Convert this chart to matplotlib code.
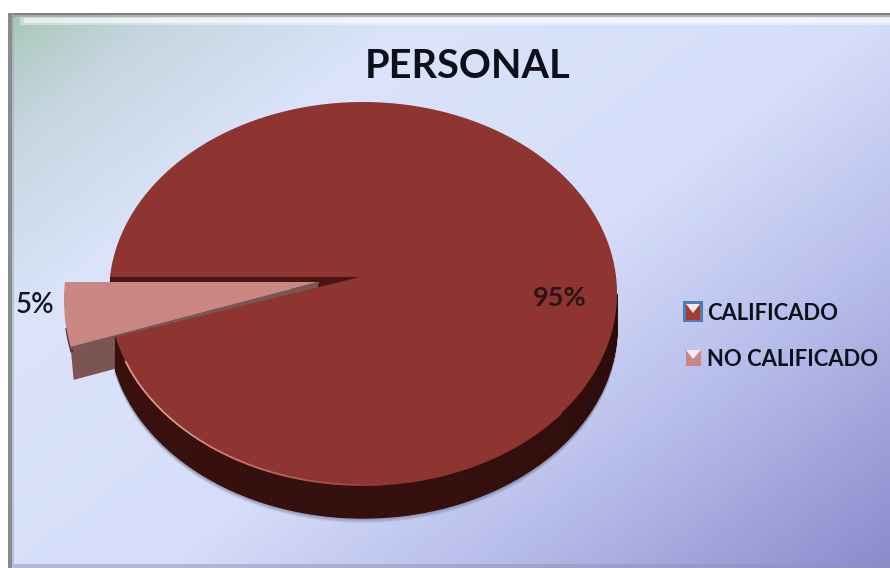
import numpy as np
import matplotlib
matplotlib.use("Agg")
import matplotlib.pyplot as plt
from matplotlib.colors import LinearSegmentedColormap, to_rgb
from matplotlib.patches import Polygon, Rectangle

plt.rcParams['font.family'] = ['Lato', 'DejaVu Sans']

title = "PERSONAL"
categories = ["CALIFICADO", "NO CALIFICADO"]
shares = [95, 5]
share_labels = ["95%", "5%"]
top_colors = ["#8e3431", "#c98683"]

W, H = 890, 568

fig = plt.figure(figsize=(8.9, 5.68), dpi=100)
ax = fig.add_axes([0, 0, 1, 1])

# panel background, diagonal gradient
x0, y0 = 8, 13
bg_cmap = LinearSegmentedColormap.from_list("panel", [
    (0.0, "#a9c8b8"),
    (0.10, "#c6d6e0"),
    (0.26, "#dbe4fb"),
    (0.55, "#d5ddf9"),
    (0.75, "#b7bdea"),
    (1.0, "#8b8bcd"),
])
xx, yy = np.meshgrid(np.linspace(0, 1, 300), np.linspace(0, 1, 200))
ax.imshow((xx * 0.55 + yy * 0.45), cmap=bg_cmap, vmin=0, vmax=1, aspect="auto",
          extent=[x0, W, H, y0], zorder=0)
ax.set_xlim(0, W)
ax.set_ylim(H, 0)
ax.axis("off")

# bevelled frame, layered so the edges fade out
ax.add_patch(Rectangle((x0 + 12, y0 + 3), W - x0 - 12, 9, color="#ffffff", lw=0, alpha=0.35, zorder=1))
ax.add_patch(Rectangle((x0 + 16, y0 + 5), W - x0 - 16, 5, color="#ffffff", lw=0, alpha=0.55, zorder=1))
ax.add_patch(Rectangle((x0, y0), W - x0, 2, color="#7d8280", lw=0, zorder=1))
ax.add_patch(Rectangle((x0, y0 + 2), W - x0, 2, color="#9aa09e", lw=0, alpha=0.7, zorder=1))
ax.add_patch(Rectangle((x0, y0), 4, H - y0, color="#868c90", lw=0, zorder=1))
ax.add_patch(Rectangle((x0 + 4, y0), 2, H - y0, color="#a0a6b0", lw=0, alpha=0.5, zorder=1))
ax.add_patch(Rectangle((x0 + 6, H - 4), W - x0 - 6, 4, color="#8f93b4", lw=0, alpha=0.5, zorder=1))

# pie geometry: the top face is an ellipse, the apex sits above its centre
cx, cy = 363, 293.5
rx, ry = 254, 191.5
apex = (360, 277)
depth = 33
explode = (-45, 5)


def rim(deg):
    # follow a ray from the apex out to the ellipse, in unsquashed coordinates
    a = np.radians(np.atleast_1d(deg))
    dx, dy = np.cos(a), -np.sin(a)
    u0, v0 = (apex[0] - cx) / rx, (apex[1] - cy) / ry
    b = u0 * dx + v0 * dy
    t = -b + np.sqrt(b * b - (u0 * u0 + v0 * v0 - 1))
    return cx + rx * (u0 + t * dx), cy + ry * (v0 + t * dy)


# slices start at the left and run counter-clockwise on screen
gap_start = 180.0
gap_end = gap_start + 360.0 * shares[1] / sum(shares)
main_deg = np.linspace(gap_end, gap_start + 360.0, 500)
gap_deg = np.linspace(gap_start, gap_end, 40)

mx, my = rim(main_deg)
gx, gy = rim(gap_deg)
# the pulled-out slice fans open a little as it moves toward the viewer
gx, gy = gx + explode[0], gy + explode[1] + np.linspace(0, 5, len(gy))
wx, wy = apex[0] + explode[0] + 3, apex[1] + explode[1]

# inner wall of the big slice, seen through the gap
ax.add_patch(Polygon([apex, (mx[-1], my[-1]), (mx[-1], my[-1] + 8), (wx + 20, wy + 8)],
                     closed=True, color="#4a1412", lw=0, zorder=2))

# small slice walls then top
ax.add_patch(Polygon([(wx, wy), (gx[-1], gy[-1]), (gx[-1] + 3, gy[-1] + 33), (wx, wy + 33)],
                     closed=True, color="#7b5552", lw=0, zorder=3))
ax.plot(gx[-14:] + 1, gy[-14:] + 4, color="#4b3230", lw=2, zorder=3)
wedge_pts = [(wx, wy)] + list(zip(gx, gy))
ax.add_patch(Polygon(wedge_pts, closed=True, color=top_colors[1], lw=0, zorder=4))
ax.plot([wx, gx[-1]], [wy + 1, gy[-1] + 1], color="#7b5552", lw=1.5, zorder=4)

near_mask = my > cy - 1
nx, ny = mx[near_mask], my[near_mask]
# keep the near arc in one run, left to right along the bottom
near_order = np.argsort(nx)
nx, ny = nx[near_order], ny[near_order]

# soft shadow under the near edge
for off, alpha in [(4, 0.10), (3, 0.15), (2, 0.22), (1, 0.30)]:
    ax.plot(nx, ny + depth + off, color="#5a6478", lw=1.5, alpha=alpha, zorder=4.5)

# side of the big slice
side_cmap = LinearSegmentedColormap.from_list("side", ["#3a100e", "#36100e", "#33100e", "#2a0c0a"])
for i in range(len(nx) - 1):
    pts = [(nx[i], ny[i]), (nx[i + 1], ny[i + 1]),
           (nx[i + 1], ny[i + 1] + depth), (nx[i], ny[i] + depth)]
    c = side_cmap(i / (len(nx) - 2))
    ax.add_patch(Polygon(pts, closed=True, facecolor=c, edgecolor=c, lw=1, zorder=5))

# top face, with a light rim on the lower left fading into the slice colour
main_pts = [apex] + list(zip(mx, my))
ax.add_patch(Polygon(main_pts, closed=True, color=top_colors[0], lw=0, zorder=6))
rim_light = np.array(to_rgb("#e09a8a"))
rim_base = np.array(to_rgb(top_colors[0]))
for i in range(len(nx) - 1):
    if nx[i] < 125 or nx[i] > 560:
        continue
    t = min(1.0, max(0.0, (nx[i] - 170) / 220))
    ax.plot(nx[i:i + 2], ny[i:i + 2], color=rim_light * (1 - t) + rim_base * t, lw=1.2, zorder=6.5,
            solid_capstyle="round")

# value labels
ax.text(560, 298, share_labels[0], ha="center", va="center", fontsize=19.5, fontweight="bold",
        color="#2a1616", zorder=7)
ax.text(35, 305, share_labels[1], ha="center", va="center", fontsize=20, fontweight="semibold",
        color="#101820", zorder=7)

# title
ax.text(468, 67, title, ha="center", va="center", fontsize=28.5, fontweight="bold",
        color="#0d0f1a", zorder=7)

# legend keys and labels
key_y = [312, 358]
for i, (label, y) in enumerate(zip(categories, key_y)):
    if i == 0:
        ax.add_patch(Rectangle((683, y - 11), 20, 21, color="#4d7db5", lw=0, zorder=7))
    ax.add_patch(Rectangle((686, y - 8), 15 if i else 14, 16, color=top_colors[i] if i else "#a83a32",
                           lw=0, zorder=8))
    ax.add_patch(Polygon([(686, y - 8), (701 if i else 700, y - 8), (693, y + 1)], closed=True,
                         color="#f6ecec", lw=0, zorder=9))
    ax.text(707, y + 1.5, label, ha="left", va="center", fontsize=15.8, fontweight="bold",
            color="#0d0f1a", zorder=9)

fig.savefig("out.png", dpi=100)
